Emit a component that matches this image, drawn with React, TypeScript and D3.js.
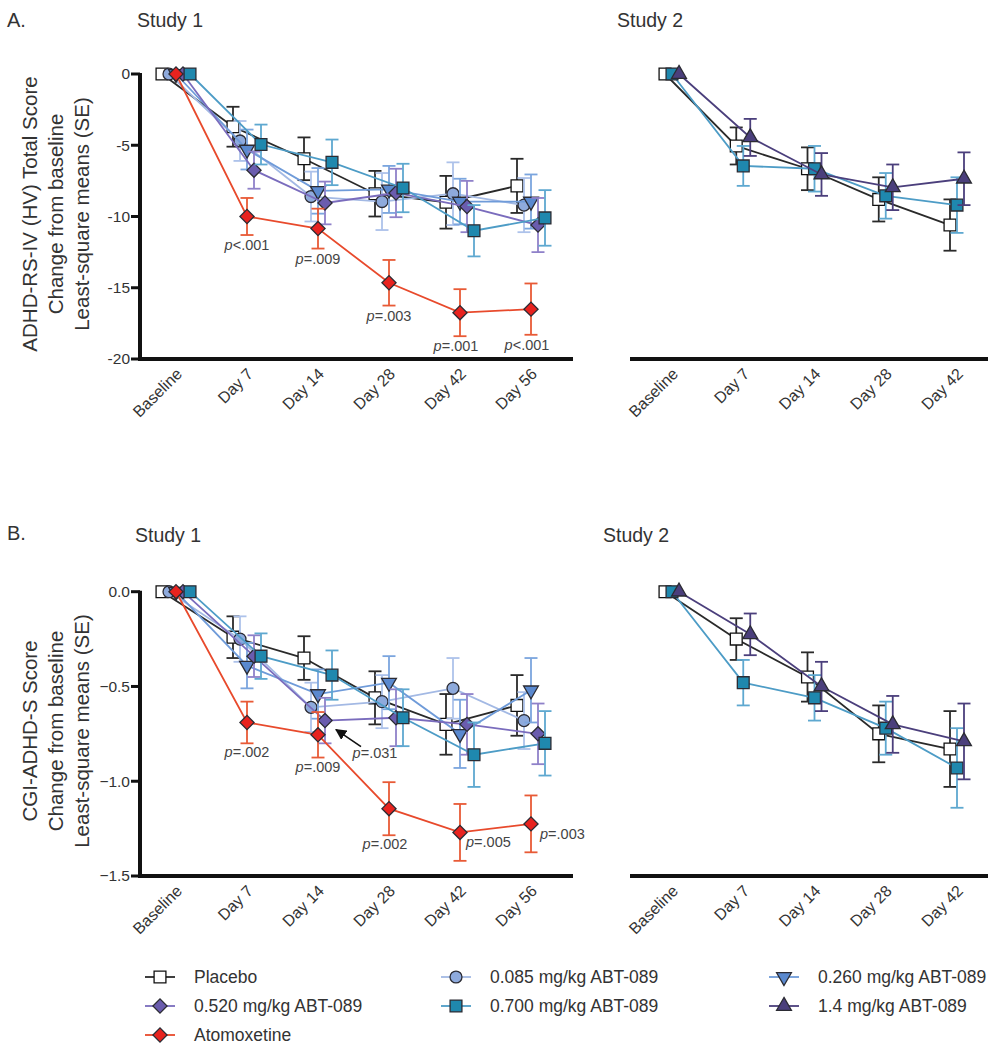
import React from 'react';
import * as d3 from 'd3';

// visit labels
const daysStudy1 = ['Baseline', 'Day 7', 'Day 14', 'Day 28', 'Day 42', 'Day 56'];
const daysStudy2 = ['Baseline', 'Day 7', 'Day 14', 'Day 28', 'Day 42'];

// A. ADHD-RS-IV (HV) total score, Study 1 (LS mean change, SE)
const aS1Placebo = [0, -3.7, -5.95, -8.4, -9.0, -7.85];
const aS1PlaceboSE = [0, 1.4, 1.5, 1.6, 1.85, 1.9];
const aS1D085 = [0, -4.7, -8.6, -8.95, -8.4, -9.2];
const aS1D085SE = [0, 1.4, 1.75, 2.0, 2.2, 1.9];
const aS1D260 = [0, -5.3, -8.2, -8.1, -8.95, -8.95];
const aS1D260SE = [0, 1.4, 1.6, 1.65, 1.6, 1.9];
const aS1D520 = [0, -6.75, -9.05, -8.35, -9.3, -10.6];
const aS1D520SE = [0, 1.3, 1.5, 1.7, 1.8, 1.9];
const aS1D700 = [0, -4.95, -6.2, -8.0, -11.0, -10.1];
const aS1D700SE = [0, 1.4, 1.6, 1.7, 1.8, 1.95];
const aS1Atx = [0, -10.0, -10.85, -14.65, -16.75, -16.5];
const aS1AtxSE = [0, 1.3, 1.4, 1.6, 1.65, 1.8];
const aS1PValues = ['', 'p<.001', 'p=.009', 'p=.003', 'p=.001', 'p<.001'];

// A. Study 2
const aS2Placebo = [0, -5.05, -6.65, -8.8, -10.6];
const aS2PlaceboSE = [0, 1.3, 1.5, 1.55, 1.8];
const aS2D700 = [0, -6.45, -6.65, -8.55, -9.2];
const aS2D700SE = [0, 1.4, 1.6, 1.6, 1.95];
const aS2D1400 = [0, -4.45, -7.05, -7.95, -7.35];
const aS2D1400SE = [0, 1.3, 1.5, 1.6, 1.85];

// B. CGI-ADHD-S score, Study 1
const bS1Placebo = [0, -0.24, -0.35, -0.56, -0.7, -0.6];
const bS1PlaceboSE = [0, 0.11, 0.115, 0.14, 0.16, 0.16];
const bS1D085 = [0, -0.25, -0.61, -0.58, -0.51, -0.68];
const bS1D085SE = [0, 0.12, 0.13, 0.14, 0.16, 0.15];
const bS1D260 = [0, -0.39, -0.54, -0.48, -0.75, -0.52];
const bS1D260SE = [0, 0.12, 0.13, 0.14, 0.18, 0.17];
const bS1D520 = [0, -0.34, -0.68, -0.665, -0.7, -0.75];
const bS1D520SE = [0, 0.11, 0.12, 0.15, 0.16, 0.16];
const bS1D700 = [0, -0.34, -0.44, -0.665, -0.86, -0.8];
const bS1D700SE = [0, 0.12, 0.13, 0.15, 0.17, 0.17];
const bS1Atx = [0, -0.69, -0.755, -1.145, -1.27, -1.225];
const bS1AtxSE = [0, 0.11, 0.12, 0.14, 0.15, 0.15];
const bS1PValues = ['', 'p=.002', 'p=.009', 'p=.002', 'p=.005', 'p=.003'];

// B. Study 2
const bS2Placebo = [0, -0.25, -0.45, -0.75, -0.83];
const bS2PlaceboSE = [0, 0.11, 0.13, 0.15, 0.2];
const bS2D700 = [0, -0.48, -0.56, -0.72, -0.93];
const bS2D700SE = [0, 0.12, 0.12, 0.14, 0.21];
const bS2D1400 = [0, -0.225, -0.5, -0.7, -0.79];
const bS2D1400SE = [0, 0.11, 0.13, 0.15, 0.2];

const yTicksA = [0, -5, -10, -15, -20];
const yTicksB = [0, -0.5, -1.0, -1.5];

const FONT = '"Liberation Sans", Arial, Helvetica, sans-serif';
const TEXT = '#333';

type Style = { label: string; shape: string; fill: string; line: string; err: string };
const STYLES: Record<string, Style> = {
  placebo: { label: 'Placebo', shape: 'square', fill: '#ffffff', line: '#2a2a2a', err: '#2a2a2a' },
  d085: { label: '0.085 mg/kg ABT-089', shape: 'circle', fill: '#8eaadc', line: '#a3b9e4', err: '#adc2ea' },
  d260: { label: '0.260 mg/kg ABT-089', shape: 'triDown', fill: '#5a89cf', line: '#6f9bd9', err: '#7ba5de' },
  d520: { label: '0.520 mg/kg ABT-089', shape: 'diamond', fill: '#6a5cae', line: '#7a6cbd', err: '#8f81c9' },
  d700: { label: '0.700 mg/kg ABT-089', shape: 'square', fill: '#1f88ae', line: '#4d9cc6', err: '#5ea8d0' },
  d1400: { label: '1.4 mg/kg ABT-089', shape: 'triUp', fill: '#4b3f7c', line: '#4b3f7c', err: '#4b3f7c' },
  atx: { label: 'Atomoxetine', shape: 'diamond', fill: '#e8231f', line: '#e84a2c', err: '#e85a36' },
};

// horizontal dodge of each group around the visit position
const dodge1: Record<string, number> = { placebo: -14, d085: -7, d260: 0, d520: 7, d700: 14, atx: 0 };
const dodge2: Record<string, number> = { placebo: -7, d700: 0, d1400: 7 };

const paths: Record<string, string> = {
  square: d3.symbol(d3.symbolSquare, 140)() as string,
  circle: d3.symbol(d3.symbolCircle, 112)() as string,
  diamond: d3.symbol(d3.symbolSquare, 100)() as string,
  triUp: d3.symbol(d3.symbolTriangle, 95)() as string,
  triDown: d3.symbol(d3.symbolTriangle, 95)() as string,
};
const rot: Record<string, number> = { square: 0, circle: 0, diamond: 45, triUp: 0, triDown: 180 };

function Marker({ k, x, y }: { k: string; x: number; y: number }) {
  const s = STYLES[k];
  return (
    <path
      d={paths[s.shape]}
      transform={`translate(${x},${y}) rotate(${rot[s.shape]})`}
      fill={s.fill}
      stroke={k === 'placebo' ? '#111' : '#2b2b33'}
      strokeWidth={1.3}
    />
  );
}

type Series = { key: string; mean: number[]; se: number[] };

function PText({ text, x, y, anchor }: { text: string; x: number; y: number; anchor: string }) {
  return (
    <text x={x} y={y} textAnchor={anchor} fontSize={14.5} fill="#444" fontFamily={FONT}>
      <tspan fontStyle="italic">{text.slice(0, 1)}</tspan>
      {text.slice(1)}
    </text>
  );
}

function Panel(props: {
  days: string[];
  series: Series[];
  dodge: Record<string, number>;
  xRange: [number, number];
  axisX: [number, number];
  yDomain: [number, number];
  yRange: [number, number];
  ticks?: number[];
  fmt?: (v: number) => string;
  children?: (x: d3.ScalePoint<string>, y: d3.ScaleLinear<number, number>) => React.ReactNode;
}) {
  const { days, series, dodge, xRange, axisX, yDomain, yRange, ticks, fmt } = props;
  const x = d3.scalePoint<string>().domain(days).range(xRange);
  const y = d3.scaleLinear().domain(yDomain).range(yRange);
  const axisY = y(yDomain[1]);
  const px = (k: string, i: number) => (x(days[i]) as number) + dodge[k];
  return (
    <g>
      {/* x axis */}
      <line x1={axisX[0]} x2={axisX[1]} y1={axisY} y2={axisY} stroke="#111" strokeWidth={4} />
      {days.map((d) => (
        <text
          key={d}
          transform={`translate(${(x(d) as number) + 3},${axisY + 12}) rotate(-45)`}
          textAnchor="end"
          dy="0.35em"
          fontSize={16}
          fill={TEXT}
          fontFamily={FONT}
        >
          {d}
        </text>
      ))}
      {/* y axis */}
      {ticks && (
        <g>
          <line x1={axisX[0]} x2={axisX[0]} y1={y(yDomain[0]) - 1} y2={axisY + 2} stroke="#111" strokeWidth={4} />
          {ticks.map((t) => (
            <g key={t}>
              <line x1={axisX[0] - 9} x2={axisX[0]} y1={y(t)} y2={y(t)} stroke="#111" strokeWidth={3} />
              <text x={axisX[0] - 10} y={y(t)} dy="0.35em" textAnchor="end" fontSize={15.5} fill={TEXT} fontFamily={FONT}>
                {fmt ? fmt(t) : String(t)}
              </text>
            </g>
          ))}
        </g>
      )}
      {series.map((s) => {
        const st = STYLES[s.key];
        const line = d3
          .line<number>()
          .x((_, i) => px(s.key, i))
          .y((v) => y(v));
        return (
          <g key={s.key}>
            <path d={line(s.mean) as string} fill="none" stroke={st.line} strokeWidth={1.8} />
            {s.mean.map((m, i) =>
              s.se[i] > 0 ? (
                <g key={i} stroke={st.err} strokeWidth={1.8}>
                  <line x1={px(s.key, i)} x2={px(s.key, i)} y1={y(m + s.se[i])} y2={y(m - s.se[i])} />
                  <line x1={px(s.key, i) - 6.5} x2={px(s.key, i) + 6.5} y1={y(m + s.se[i])} y2={y(m + s.se[i])} />
                  <line x1={px(s.key, i) - 6.5} x2={px(s.key, i) + 6.5} y1={y(m - s.se[i])} y2={y(m - s.se[i])} />
                </g>
              ) : null
            )}
            {s.mean.map((m, i) => (
              <Marker key={i} k={s.key} x={px(s.key, i)} y={y(m)} />
            ))}
          </g>
        );
      })}
      {props.children && props.children(x, y)}
    </g>
  );
}

function YLabel({ lines, cx, cy }: { lines: string[]; cx: number[]; cy: number }) {
  return (
    <g>
      {lines.map((l, i) => (
        <text
          key={i}
          transform={`translate(${cx[i]},${cy}) rotate(-90)`}
          textAnchor="middle"
          fontSize={20.5}
          fill={TEXT}
          fontFamily={FONT}
        >
          {l}
        </text>
      ))}
    </g>
  );
}

export default function App() {
  const aS1: Series[] = [
    { key: 'placebo', mean: aS1Placebo, se: aS1PlaceboSE },
    { key: 'd085', mean: aS1D085, se: aS1D085SE },
    { key: 'd260', mean: aS1D260, se: aS1D260SE },
    { key: 'd520', mean: aS1D520, se: aS1D520SE },
    { key: 'd700', mean: aS1D700, se: aS1D700SE },
    { key: 'atx', mean: aS1Atx, se: aS1AtxSE },
  ];
  const aS2: Series[] = [
    { key: 'placebo', mean: aS2Placebo, se: aS2PlaceboSE },
    { key: 'd700', mean: aS2D700, se: aS2D700SE },
    { key: 'd1400', mean: aS2D1400, se: aS2D1400SE },
  ];
  const bS1: Series[] = [
    { key: 'placebo', mean: bS1Placebo, se: bS1PlaceboSE },
    { key: 'd085', mean: bS1D085, se: bS1D085SE },
    { key: 'd260', mean: bS1D260, se: bS1D260SE },
    { key: 'd520', mean: bS1D520, se: bS1D520SE },
    { key: 'd700', mean: bS1D700, se: bS1D700SE },
    { key: 'atx', mean: bS1Atx, se: bS1AtxSE },
  ];
  const bS2: Series[] = [
    { key: 'placebo', mean: bS2Placebo, se: bS2PlaceboSE },
    { key: 'd700', mean: bS2D700, se: bS2D700SE },
    { key: 'd1400', mean: bS2D1400, se: bS2D1400SE },
  ];

  const legendCols = [
    ['placebo', 'd520', 'atx'],
    ['d085', 'd700'],
    ['d260', 'd1400'],
  ];
  const legendX = [160, 456, 784];
  const legendY0 = 977;
  const legendDy = 29;

  return (
    <svg
      width={998}
      height={1050}
      style={{ position: 'absolute', left: 0, top: 0, background: '#fff' }}
      fontFamily={FONT}
    >
      <defs>
        <marker id="arr" viewBox="0 0 10 10" refX="9" refY="5" markerWidth="7" markerHeight="7" orient="auto">
          <path d="M0,0 L10,5 L0,10 z" fill="#111" />
        </marker>
      </defs>

      {/* Panel A */}
      <text x={7} y={27} fontSize={20} fill={TEXT}>A.</text>
      <text x={137} y={27} fontSize={19.5} fill={TEXT}>Study 1</text>
      <text x={617} y={27} fontSize={19.5} fill={TEXT}>Study 2</text>
      <YLabel
        lines={['ADHD-RS-IV (HV) Total Score', 'Change from baseline', 'Least-square means (SE)']}
        cx={[37, 63, 89]}
        cy={214}
      />
      <Panel
        days={daysStudy1}
        series={aS1}
        dodge={dodge1}
        xRange={[176, 531]}
        axisX={[140, 573]}
        yDomain={[0, -20]}
        yRange={[74, 359]}
        ticks={yTicksA}
      >
        {(x, y) =>
          aS1PValues.map((p, i) =>
            p ? (
              <PText
                key={i}
                text={p}
                x={(x(daysStudy1[i]) as number) - (i >= 4 ? 4 : 0)}
                y={y(aS1Atx[i] - aS1AtxSE[i]) + 15}
                anchor="middle"
              />
            ) : null
          )
        }
      </Panel>
      <Panel
        days={daysStudy2}
        series={aS2}
        dodge={dodge2}
        xRange={[672, 957]}
        axisX={[630, 988]}
        yDomain={[0, -20]}
        yRange={[74, 359]}
      />

      {/* Panel B */}
      <text x={7} y={540} fontSize={20} fill={TEXT}>B.</text>
      <text x={135} y={542} fontSize={19.5} fill={TEXT}>Study 1</text>
      <text x={603} y={542} fontSize={19.5} fill={TEXT}>Study 2</text>
      <YLabel
        lines={['CGI-ADHD-S Score', 'Change from baseline', 'Least-square means (SE)']}
        cx={[37, 63, 89]}
        cy={731}
      />
      <Panel
        days={daysStudy1}
        series={bS1}
        dodge={dodge1}
        xRange={[176, 531]}
        axisX={[140, 573]}
        yDomain={[0, -1.5]}
        yRange={[591.7, 876]}
        ticks={yTicksB}
        fmt={d3.format('.1f')}
      >
        {(x, y) => {
          const dx = (x('Day 14') as number) + dodge1.d520;
          const dy = y(bS1D520[2]);
          return (
            <g>
              {bS1PValues.map((p, i) => {
                if (!p) return null;
                const cx = x(daysStudy1[i]) as number;
                if (i >= 4)
                  return <PText key={i} text={p} x={cx + 6 + (i - 4) * 3} y={y(bS1Atx[i]) + 15} anchor="start" />;
                return (
                  <PText key={i} text={p} x={cx - (i === 3 ? 4 : 0)} y={y(bS1Atx[i] - bS1AtxSE[i]) + 14} anchor="middle" />
                );
              })}
              <line
                x1={dx + 36}
                y1={dy + 26}
                x2={dx + 11}
                y2={dy + 9}
                stroke="#111"
                strokeWidth={1.6}
                markerEnd="url(#arr)"
              />
              <PText text="p=.031" x={dx + 50} y={dy + 37} anchor="middle" />
            </g>
          );
        }}
      </Panel>
      <Panel
        days={daysStudy2}
        series={bS2}
        dodge={dodge2}
        xRange={[672, 957]}
        axisX={[630, 988]}
        yDomain={[0, -1.5]}
        yRange={[591.7, 876]}
      />

      {/* Legend */}
      {legendCols.map((col, ci) =>
        col.map((k, ri) => {
          const cx = legendX[ci];
          const cy = legendY0 + ri * legendDy;
          return (
            <g key={k}>
              <line x1={cx - 15} x2={cx + 15} y1={cy} y2={cy} stroke={STYLES[k].line} strokeWidth={1.8} />
              <Marker k={k} x={cx} y={cy} />
              <text x={cx + 34} y={cy} dy="0.35em" fontSize={17.5} fill={TEXT}>
                {STYLES[k].label}
              </text>
            </g>
          );
        })
      )}
    </svg>
  );
}
